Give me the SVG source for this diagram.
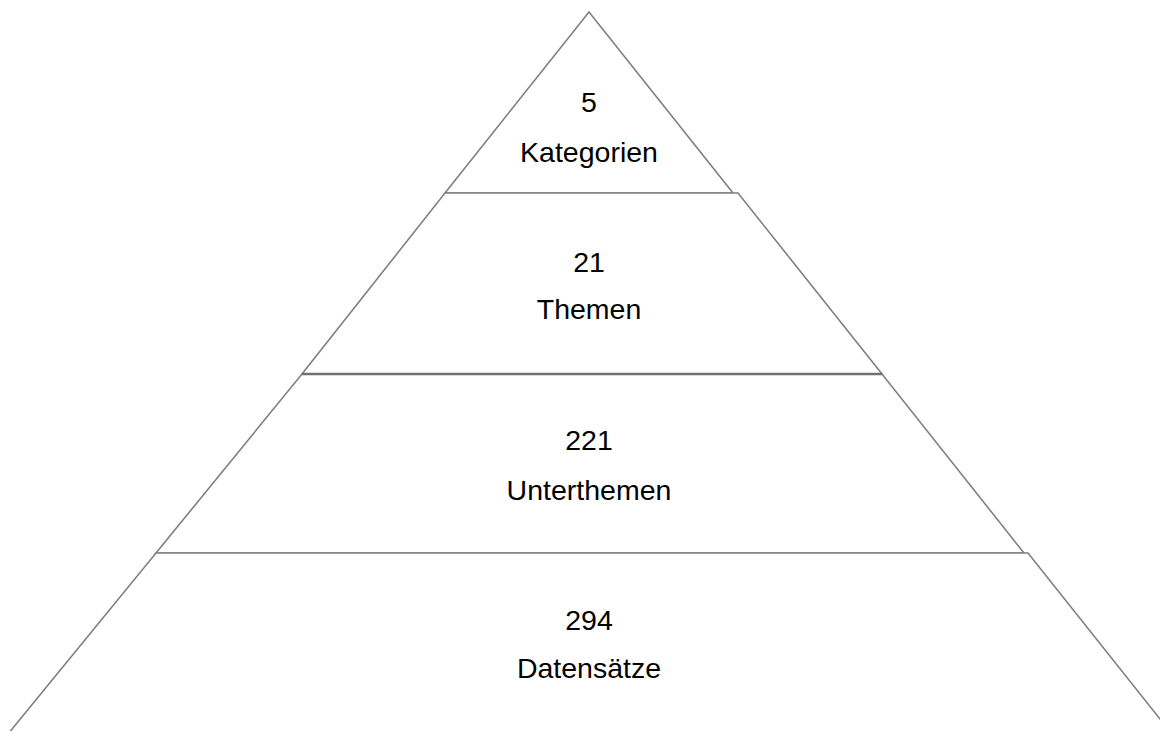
<svg xmlns="http://www.w3.org/2000/svg" width="1160" height="731" viewBox="0 0 1160 731">
<style>
.lvl{fill:#ffffff;stroke:#808080;stroke-width:1.6;stroke-linejoin:miter}
.t{font-family:"Liberation Sans",Arial,sans-serif;font-size:28.5px;fill:#000000;text-anchor:middle}
</style>
<rect width="1160" height="731" fill="#ffffff"/>
<g id="level1">
<polygon class="lvl" points="589,12 733,193 445,193"/>
<text class="t" x="589" y="112">5</text>
<text class="t" x="589" y="162">Kategorien</text>
</g>
<g id="level2">
<polygon class="lvl" points="445,193 738,193 882,374 302,374"/>
<text class="t" x="589" y="272">21</text>
<text class="t" x="589" y="319">Themen</text>
</g>
<g id="level3">
<polygon class="lvl" points="302,374 882,374 1024,553 156,553"/>
<line x1="302" y1="374" x2="882" y2="374" stroke="#707070" stroke-width="2.4"/>
<text class="t" x="589" y="450">221</text>
<text class="t" x="589" y="500">Unterthemen</text>
</g>
<g id="level4">
<polygon class="lvl" points="156,553 1028,553 1172,734 8,734"/>
<text class="t" x="589" y="630">294</text>
<text class="t" x="589" y="678">Datensätze</text>
</g>
<g id="connectors"></g>
</svg>
